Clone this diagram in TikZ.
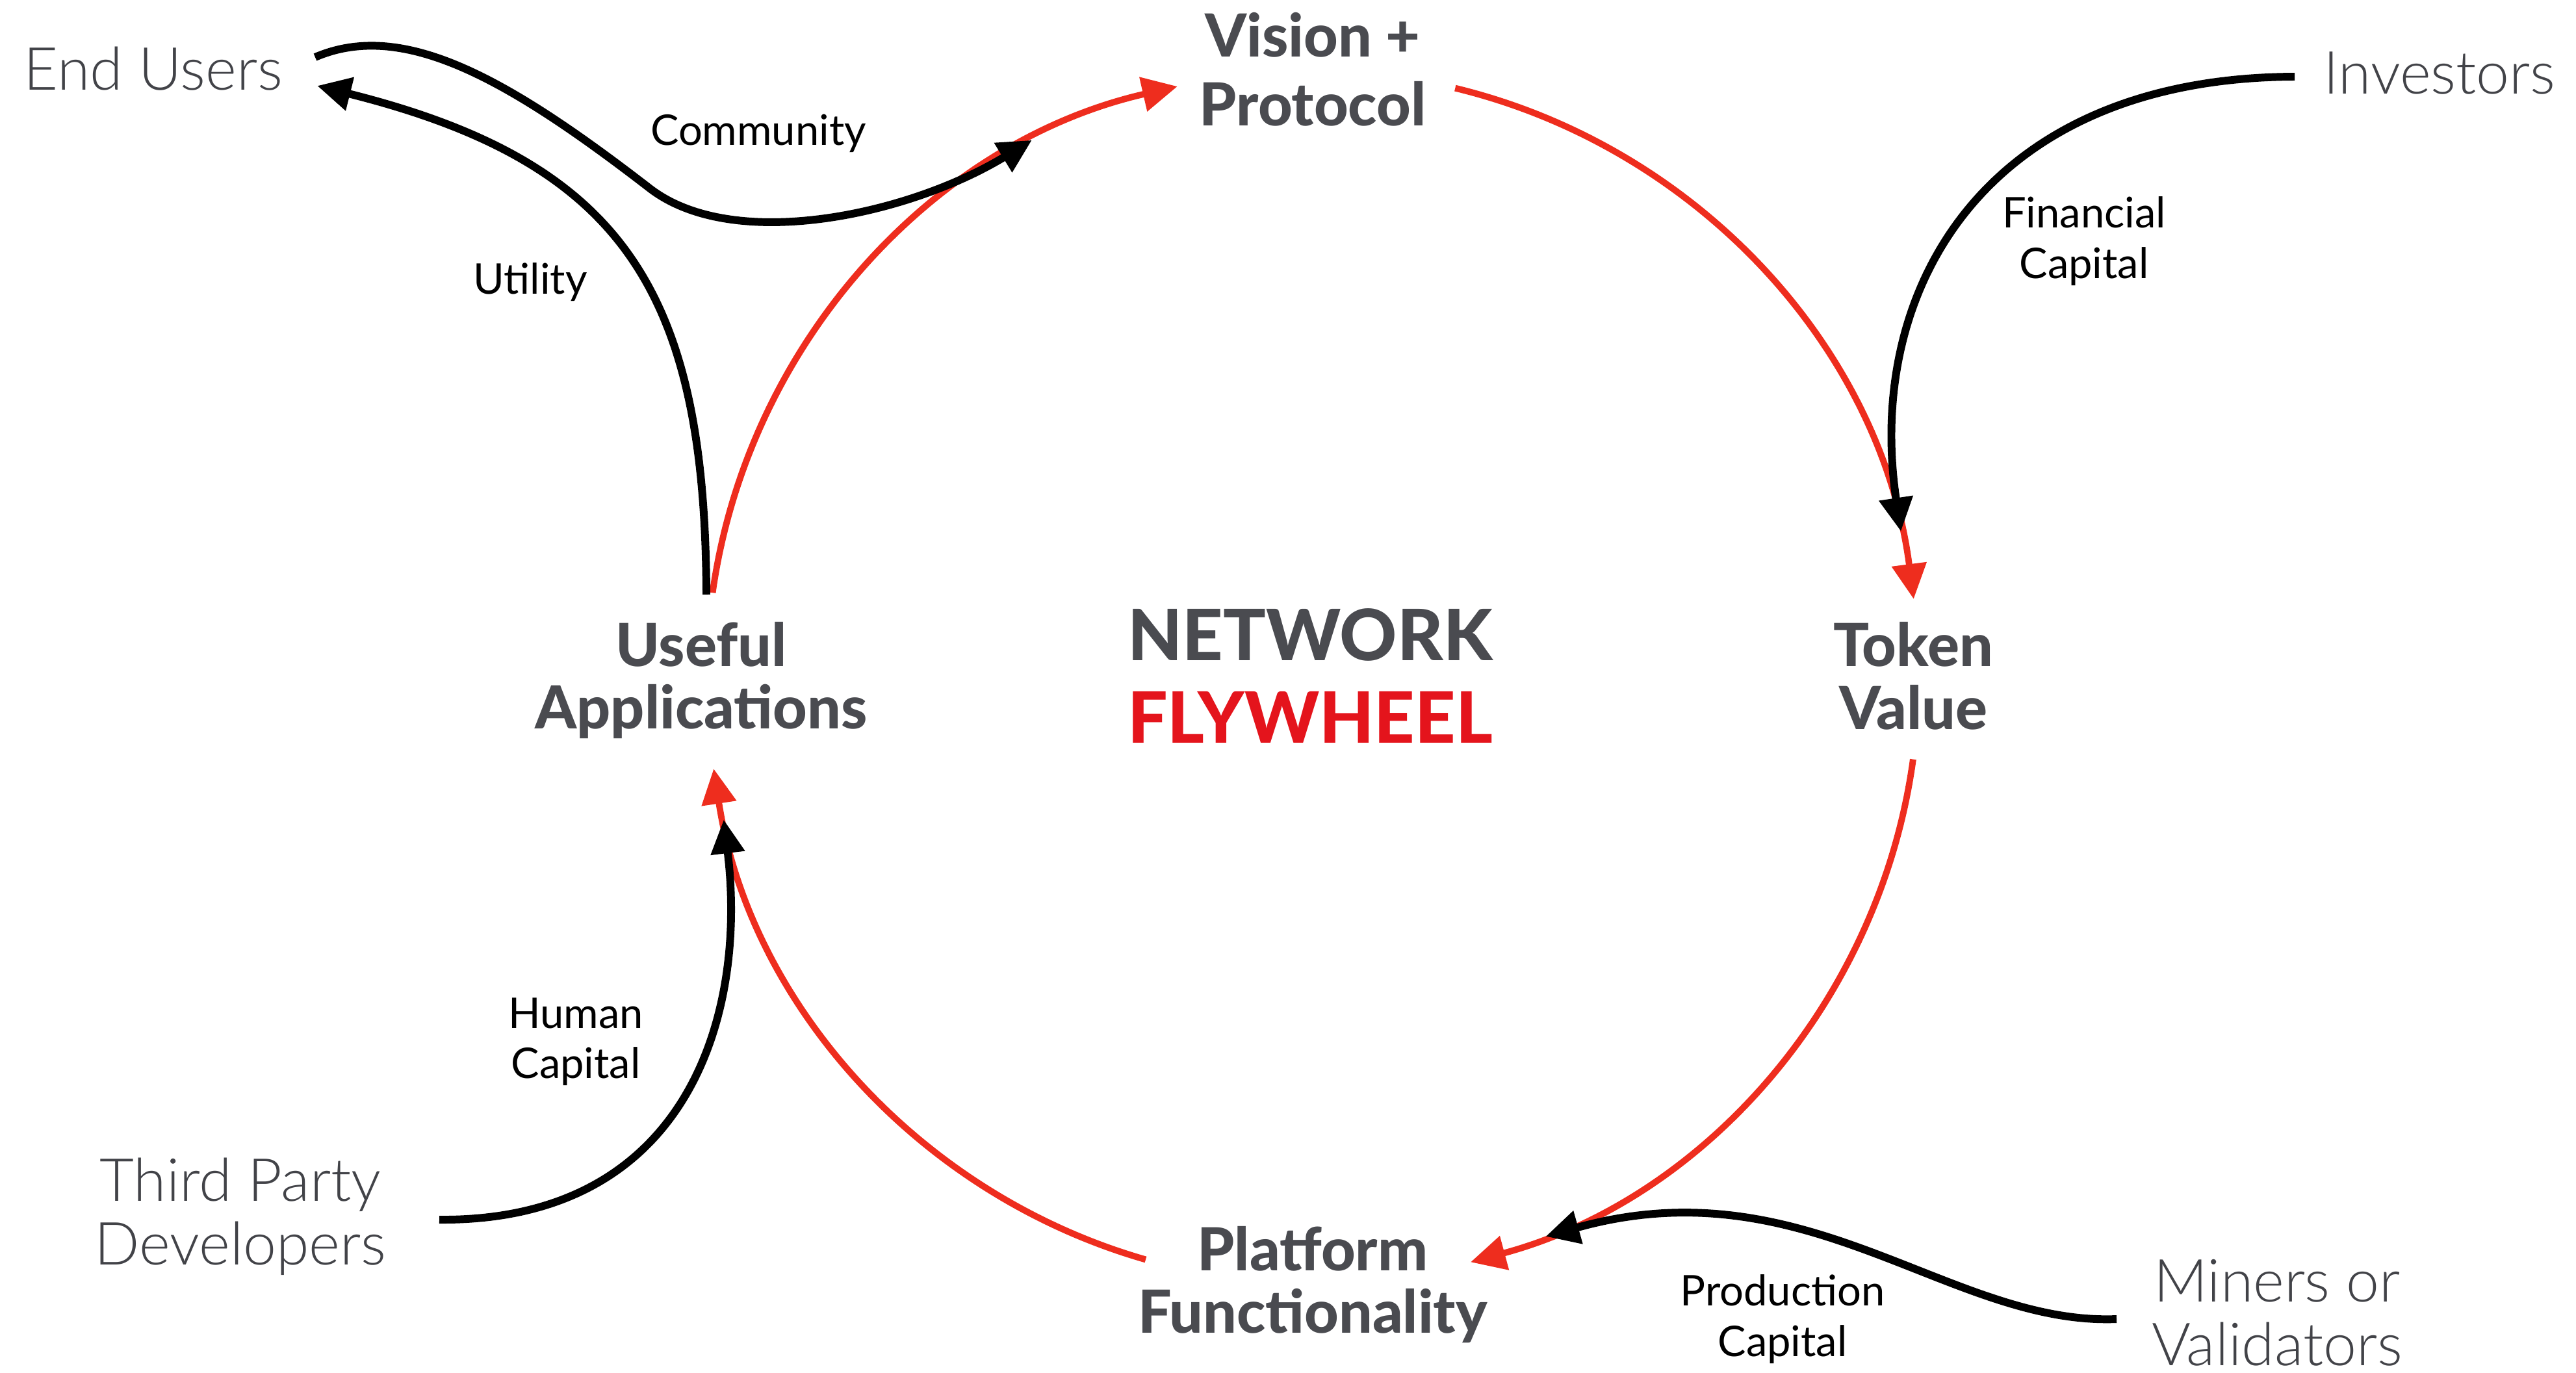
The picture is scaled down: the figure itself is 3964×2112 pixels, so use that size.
\documentclass[tikz,border=0pt]{standalone}
\usepackage{fontspec}
\setmainfont{Lato}
\newfontfamily\latolight{Lato Light}
\newfontfamily\latoheavy{Lato Heavy}
\usetikzlibrary{arrows.meta,calc}
\definecolor{txtgray}{RGB}{74,75,80}
\definecolor{lightgray}{RGB}{66,67,72}
\definecolor{flyred}{RGB}{228,20,28}
\definecolor{arcred}{RGB}{238,45,30}
\tikzset{
  actor/.style={text=lightgray, font=\latolight\fontsize{26}{28}\selectfont, align=center, inner sep=0pt},
  stage/.style={text=txtgray, font=\latoheavy\fontsize{26}{27.5}\selectfont, align=center, inner sep=0pt},
  flowlabel/.style={text=black, font=\fontsize{18.5}{22}\selectfont, align=center, inner sep=0pt},
  redarc/.style={draw=arcred, line width=2.8pt, -{Triangle[length=0.54cm,width=0.52cm]}},
  blackflow/.style={draw=black, line width=3.4pt, -{Triangle[length=0.52cm,width=0.5cm]}},
}
\begin{document}
\begin{tikzpicture}[x=0.01cm,y=0.01cm]
\useasboundingbox (0,0) rectangle (3964,-2112);

% stage nodes
\node[stage, font=\latoheavy\fontsize{26}{30}\selectfont] (vision) at (2020,-107) {Vision +\\Protocol};
\node[stage] (token) at (2944,-1040) {Token\\Value};
\node[stage] (platform) at (2020,-1977) {Platform\\Functionality};
\node[stage] (useful) at (1079,-1047) {Useful\\Applications};
\node[text=txtgray, font=\latoheavy\fontsize{31}{36}\selectfont, align=center, inner sep=0pt] (title) at (2016,-1040) {NETWORK\\\textcolor{flyred}{FLYWHEEL}};

% actors
\node[actor] (endusers) at (236,-106) {End Users};
\node[actor] (investors) at (3754,-113) {Investors};
\node[actor] (devs) at (370,-1872) {Third Party\\Developers};
\node[actor] (miners) at (3504,-2020) {Miners or\\Validators};

% flow labels
\node[flowlabel] (lcomm) at (1167,-205) {Community};
\node[flowlabel] (lutil) at (816,-434) {Utility};
\node[flowlabel] (lfin) at (3207,-371) {Financial\\Capital};
\node[flowlabel] (lhum) at (886,-1603) {Human\\Capital};
\node[flowlabel] (lprod) at (2743,-2030) {Production\\Capital};

% flywheel circle
\coordinate (ctr) at (2020,-1042);
\def\R{9.32cm}
\coordinate (v-out) at ($(ctr)+(76.4:\R)$);
\coordinate (t-out) at ($(ctr)+(-7.8:\R)$);
\coordinate (p-out) at ($(ctr)+(-106:\R)$);
\coordinate (u-out) at ($(ctr)+(172:\R)$);
\draw[redarc] (v-out) arc[start angle=76.4, end angle=7.4, radius=\R];
\draw[redarc] (t-out) arc[start angle=-7.8, end angle=-74.9, radius=\R];
\draw[redarc] (p-out) arc[start angle=-106, end angle=-171.3, radius=\R];
\draw[redarc] (u-out) arc[start angle=172, end angle=102.9, radius=\R];

% inputs landing on the circle
\coordinate (comm-in) at ($(ctr)+(117.6:\R)$);
\coordinate (fin-in) at ($(ctr)+(13.9:\R)$);
\coordinate (prod-in) at ($(ctr)+(-67.4:\R)$);
\coordinate (hum-in) at ($(ctr)+(193.6:\R)$);
\coordinate (eu-out) at (485,-88);
\coordinate (eu-in) at (488,-132);
\coordinate (inv-out) at (3531,-118);
\coordinate (min-out) at (3257,-2030);
\coordinate (dev-out) at (676,-1877);
\coordinate (use-out) at (1087,-915);

% black connectors
\draw[blackflow] (eu-out) .. controls (620,-30) and (780,-120) .. (1000,-290)
   .. controls (1130,-390) and (1400,-330) .. (comm-in);
\draw[blackflow] (use-out) .. controls (1085,-450) and (960,-250) .. (eu-in);
\draw[blackflow] (inv-out) .. controls (3050,-120) and (2870,-450) .. (fin-in);
\draw[blackflow] (min-out) .. controls (3000,-2040) and (2780,-1790) .. (prod-in);
\draw[blackflow] (dev-out) .. controls (1060,-1880) and (1150,-1560) .. (hum-in);
\end{tikzpicture}
\end{document}
